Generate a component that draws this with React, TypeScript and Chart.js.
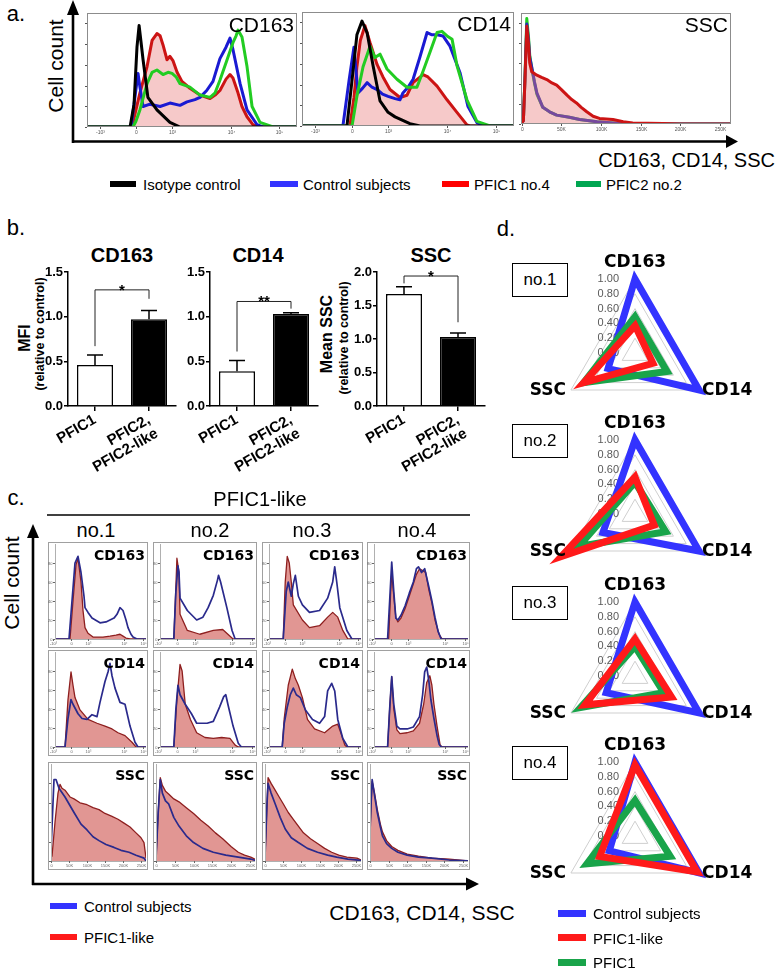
import React, { useEffect, useRef } from 'react';
import { Chart, registerables } from 'chart.js';

Chart.register(...registerables);

type Pt = [number, number];

const SANS = '"Liberation Sans", Arial, Helvetica, sans-serif';
const VERD = '"DejaVu Sans", Verdana, sans-serif';

// ---------------- Panel a data ----------------
const aLegend = ['Isotype control', 'Control subjects', 'PFIC1 no.4', 'PFIC2 no.2'];
const aLegendColors = ['#000000', '#3333ff', '#ff0000', '#00a651'];
const aTitles = ['CD163', 'CD14', 'SSC'];
const cdTickPos = [6, 23.5, 40.5, 68.5, 91.5];
const cdTickLabels = ['-10³', '0', '10³', '10⁴', '10⁵'];
const sscTickPosK = [0, 50, 100, 150, 200, 250];
const sscTickLabels = ['0', '50K', '100K', '150K', '200K', '250K'];
const aYTicks = [0, 18.2, 36.4, 54.6, 72.8, 91];

const a163Black: Pt[] = [[0,0],[20.5,0],[22.4,20],[23.8,70],[24.8,89],[25.7,75],[26.7,59],[29,26],[33.3,15],[39.5,4],[44.3,0],[100,0]];
const a163Blue: Pt[] = [[0,0],[21,0],[22.4,20],[24.3,47],[25.2,35],[26.7,18],[30,20],[34.8,18],[39.5,21],[44.3,19],[47.6,22],[51.4,24],[53.8,26],[57,32],[60,40],[63.3,60],[66.2,70],[68.1,78],[69.5,68],[72.9,38],[76.2,15],[81,2],[83.8,0],[100,0]];
const a163Red: Pt[] = [[0,0],[21.4,0],[23.3,15],[25.2,30],[28.6,53],[31,76],[33.3,82],[34.8,80],[36.2,72],[38.1,59],[39.5,62],[41,58],[42.9,48],[45.2,40],[49,34],[53.8,28],[58.6,25],[61,28],[63.3,32],[66.2,42],[68.1,46],[69.5,43],[71.9,30],[73.8,18],[76.2,9],[79,2],[82.4,0],[100,0]];
const a163Green: Pt[] = [[0,0],[21.9,0],[23.3,5],[25.2,15],[28.6,38],[31,48],[33.3,50],[36.2,46],[38.6,48],[40.5,47],[42.4,44],[44.3,38],[49,35],[53.8,28],[58.6,26],[61,30],[63.3,41],[66.7,59],[69.5,74],[71,80],[71.9,85],[73.8,79],[76.2,53],[78.6,18],[82.4,4],[88.6,0],[100,0]];

const a14Black: Pt[] = [[0,0],[21.2,0],[23.6,40],[25.9,80],[28.3,92],[30.7,82],[33.5,53],[36.8,22],[40.6,12],[43.9,8],[50.9,2],[55.7,0],[100,0]];
const a14Blue: Pt[] = [[0,0],[19.3,0],[22.2,40],[24.5,69],[26.4,29],[28.5,33],[30.7,38],[33,34],[35.4,32],[38,28],[40.6,26],[43.9,24],[46.2,23],[47.6,29],[50,34],[52.4,41],[55.7,61],[59,82],[61.3,80],[63.7,80],[66.5,79],[69.8,70],[74.5,47],[78.3,17],[82.5,3],[86.3,0],[100,0]];
const a14Red: Pt[] = [[0,0],[22.6,0],[24.5,25],[25.9,52],[27.5,75],[29.7,88],[32.1,73],[35.4,54],[38.2,43],[41.5,32],[46.2,25],[49.5,27],[52.4,38],[57.1,45],[59.4,43],[63.7,35],[68.4,23],[73.1,12],[77.8,1],[79.2,0],[100,0]];
const a14Green: Pt[] = [[0,0],[23.6,0],[25.9,26],[28.8,52],[32.1,70],[34.4,60],[36.8,63],[40.1,50],[44.8,41],[49.5,34],[54.2,34],[57.1,48],[60.4,65],[63.7,82],[66,83],[68.4,79],[70.8,76],[73.1,53],[77.8,23],[82.5,4],[88.7,0],[100,0]];

const aSscBlue: Pt[] = [[-1,0],[2,3],[4,40],[6.3,90],[8.5,75],[10,60],[12.6,51],[16,38],[19,28],[26.5,15],[35,11],[44,8],[60,6],[73,4],[95,2],[115,1],[136,0],[264,0]];
const aSscGreen: Pt[] = [[-1,0],[2,3],[4,42],[6.3,95],[8.5,78],[10,62],[12.6,50],[16,37],[19,27],[26.5,15],[35,11],[44,8],[60,6],[73,4],[95,2],[115,1],[136,0],[264,0]];
const aSscRed: Pt[] = [[-1,0],[2,3],[4,40],[6.3,88],[8.5,72],[10,55],[12.6,47],[19,44],[25,42],[31.6,40],[38,37],[44,35],[50,31],[57,26],[63,22],[69,19],[75,15],[82,11],[90,7],[98,5],[115,4],[128,2],[140,1],[178,0.5],[200,0],[264,0]];

// ---------------- Panel b data ----------------
const bCats: (string | string[])[] = ['PFIC1', ['PFIC2,', 'PFIC2-like']];
const b163 = [0.46, 0.97];
const b163Err = [0.11, 0.10];
const b163Sig = [0.67, 1.30, 1.20];
const b14 = [0.39, 1.03];
const b14Err = [0.12, 0.015];
const b14Sig = [0.61, 1.17, 1.09];
const bSsc = [1.67, 1.03];
const bSscErr = [0.11, 0.06];
const bSscSig = [1.83, 1.94, 1.25];

// ---------------- Panel c data ----------------
const cTitles = ['CD163', 'CD14', 'SSC'];
const cColTitles = ['no.1', 'no.2', 'no.3', 'no.4'];
const cCdTicks = [5, 23, 40, 76, 95];
const cSscTicks = [3, 21, 39, 57, 75, 93];
const cYTicks = [0, 20, 40, 60, 80];
const cYLabels = ['0', '20', '40', '60', '80'];

const c163Blue1: Pt[] = [[0,0],[21,0],[24,40],[27,80],[30,87],[33,70],[36,45],[37,33],[40,28],[44,22],[52,17],[58,18],[62,20],[66,22],[69,26],[72,33],[75,30],[78,20],[80,12],[83,5],[85,2],[89,0],[100,0]];
const c163Red1: Pt[] = [[0,0],[22,0],[25,40],[28,78],[30,85],[33,60],[35,30],[37,12],[40,6],[45,2],[55,2],[62,3],[68,4],[72,5],[75,3],[78,1],[82,0],[100,0]];
const c163Blue2: Pt[] = [[0,0],[20,0],[22,50],[24,77],[25,70],[26,43],[33,30],[42,20],[48,23],[53,33],[58,46],[62,62],[63,67],[65,60],[71,33],[76,9],[79,0],[100,0]];
const c163Red2: Pt[] = [[0,0],[20,0],[22,55],[23,85],[25,70],[26,26],[33,9],[45,5],[58,9],[67,10],[72,5],[77,0],[100,0]];
const c163Blue3: Pt[] = [[0,0],[21,0],[24,50],[26,60],[29,45],[31,58],[33,67],[36,45],[40,36],[47,28],[57,30],[65,43],[70,60],[72,76],[74,60],[77,33],[84,9],[89,0],[100,0]];
const c163Red3: Pt[] = [[0,0],[21,0],[23,60],[25,87],[27,80],[29,60],[31,36],[40,20],[47,12],[57,14],[65,23],[70,28],[75,23],[80,9],[85,0],[100,0]];
const c163Blue4: Pt[] = [[0,0],[20,0],[22,40],[24,81],[26,50],[28,22],[30,20],[33,25],[37,35],[41,48],[45,60],[48,74],[50,76],[53,70],[56,74],[60,55],[63,40],[66,23],[69,8],[72,0],[100,0]];
const c163Red4: Pt[] = [[0,0],[21,0],[23,50],[24,70],[26,45],[28,23],[30,18],[33,22],[37,32],[41,45],[45,58],[48,68],[51,74],[54,72],[57,70],[60,52],[63,38],[66,20],[70,5],[73,0],[100,0]];

const c14Blue1: Pt[] = [[0,0],[17,0],[20,30],[23,50],[25,45],[30,35],[34,30],[39,29],[44,34],[49,32],[52,47],[57,69],[60,79],[62,88],[64,75],[67,62],[72,47],[77,45],[82,22],[87,5],[90,0],[100,0]];
const c14Red1: Pt[] = [[0,0],[17,0],[20,50],[23,79],[25,65],[27,52],[32,39],[40,29],[49,25],[57,22],[64,19],[70,15],[77,12],[84,5],[88,0],[100,0]];
const c14Blue2: Pt[] = [[0,0],[20,0],[22,40],[24,65],[26,55],[31,45],[37,35],[42,25],[52,25],[58,27],[64,42],[68,53],[70,55],[72,45],[77,22],[82,4],[85,0],[100,0]];
const c14Red2: Pt[] = [[0,0],[20,0],[23,50],[26,87],[28,80],[31,45],[36,29],[42,15],[50,10],[58,9],[66,10],[74,9],[79,2],[82,0],[100,0]];
const c14Blue3: Pt[] = [[0,0],[20,0],[22,25],[25,42],[28,55],[31,62],[34,55],[38,52],[43,39],[50,29],[57,25],[62,32],[65,59],[69,67],[72,59],[75,29],[80,9],[85,0],[100,0]];
const c14Red3: Pt[] = [[0,0],[20,0],[22,30],[26,65],[30,82],[33,72],[36,65],[40,52],[45,29],[52,19],[62,15],[70,22],[75,24],[79,12],[82,2],[84,0],[100,0]];
const c14Blue4: Pt[] = [[0,0],[20,0],[22,40],[24,74],[26,45],[29,22],[32,19],[39,19],[45,21],[51,32],[54,55],[56,79],[58,84],[60,70],[62,50],[65,30],[68,12],[70,3],[72,0],[100,0]];
const c14Red4: Pt[] = [[0,0],[20,0],[22,40],[24,74],[26,40],[29,18],[32,14],[39,15],[45,17],[51,25],[55,45],[58,68],[61,75],[63,65],[65,45],[68,22],[71,2],[73,0],[100,0]];

const cSscBlue1: Pt[] = [[0,0],[3,10],[5,60],[6,84],[8,84],[11,75],[17,66],[26,50],[33,38],[39,32],[45,25],[51,21],[58,17],[66,14],[73,11],[81,9],[88,6],[96,3],[98,0],[100,0]];
const cSscRed1: Pt[] = [[0,0],[4,5],[7,40],[10,70],[12,79],[14,75],[17,73],[22,66],[26,64],[32,60],[39,58],[45,55],[51,53],[57,49],[64,46],[70,43],[76,39],[82,35],[88,29],[93,24],[96,19],[98,3],[100,0]];
const cSscBlue2: Pt[] = [[0,0],[3,5],[5,50],[7,84],[9,70],[12,62],[15,59],[20,45],[25,36],[32,26],[39,19],[48,13],[58,9],[70,6],[82,4],[94,2],[100,0]];
const cSscRed2: Pt[] = [[0,0],[3,5],[5,50],[7,86],[9,78],[12,72],[15,69],[20,64],[25,61],[32,55],[39,49],[46,42],[53,36],[60,29],[67,23],[75,15],[82,9],[88,6],[94,4],[98,2],[100,0]];
const cSscBlue3: Pt[] = [[0,0],[3,5],[5,60],[6,80],[9,70],[13,59],[18,45],[23,33],[29,24],[36,19],[45,13],[55,9],[65,6],[74,4],[85,2],[95,1],[100,0]];
const cSscRed3: Pt[] = [[0,0],[3,5],[5,60],[6,86],[9,80],[13,73],[17,66],[21,59],[26,50],[31,43],[36,36],[41,29],[48,23],[55,18],[62,13],[69,9],[76,6],[84,4],[94,3],[100,0]];
const cSscBlue4: Pt[] = [[0,0],[2,5],[4,60],[5,84],[7,70],[10,50],[13,35],[15,26],[19,18],[24,13],[30,9],[39,6],[50,4],[63,3],[80,1],[100,0]];
const cSscRed4: Pt[] = [[0,0],[2,5],[4,60],[5,82],[7,72],[10,53],[13,38],[15,30],[19,21],[24,15],[30,11],[39,7],[50,5],[63,3],[80,2],[100,0]];

// ---------------- Panel d data ----------------
const dAxes = ['CD163', 'CD14', 'SSC'];
const dTicks = [0, 0.2, 0.4, 0.6, 0.8, 1.0];
const dNames = ['no.1', 'no.2', 'no.3', 'no.4'];
const dBlue1 = [1.0, 1.0, 0.42];
const dGreen1 = [0.49, 0.5, 0.8];
const dRed1 = [0.37, 0.28, 0.8];
const dBlue2 = [1.0, 1.0, 0.5];
const dGreen2 = [0.43, 0.48, 0.88];
const dRed2 = [0.5, 0.3, 1.15];
const dBlue3 = [1.0, 1.0, 0.45];
const dGreen3 = [0.4, 0.45, 0.85];
const dRed3 = [0.5, 0.57, 0.78];
const dBlue4 = [1.0, 1.0, 0.4];
const dGreen4 = [0.48, 0.55, 0.75];
const dRed4 = [0.96, 0.97, 0.55];
const dLegend = ['Control subjects', 'PFIC1-like', 'PFIC1'];
const cLegend = ['Control subjects', 'PFIC1-like'];

// colours
const D_BLUE = '#3333ff';
const D_RED = '#ff1a1a';
const D_GREEN = '#19a44a';

// ---------------- helpers ----------------
interface HistSeries { pts: Pt[]; color: string; width: number; fill?: string }
interface HistOpts {
  series: HistSeries[];
  xMin: number; xMax: number;
  pad: { left: number; top: number; right: number; bottom: number };
  xTicks: number[]; xLabels: string[];
  yTicks: number[]; yLabels?: string[];
  frame?: string; outerFrame?: string; axisLine?: string;
  tickFont: number; tickColor: string;
}

function histConfig(o: HistOpts): any {
  const n = o.series.length;
  const decor = {
    id: 'histDecor',
    afterDatasetsDraw(chart: any) {
      const { ctx, chartArea: ca } = chart;
      const xs = chart.scales.x;
      const ys = chart.scales.y;
      ctx.save();
      ctx.lineWidth = 1;
      if (o.axisLine) {
        ctx.strokeStyle = o.axisLine;
        ctx.beginPath();
        ctx.moveTo(Math.round(ca.left) + 0.5, ca.top);
        ctx.lineTo(Math.round(ca.left) + 0.5, Math.round(ca.bottom) + 0.5);
        ctx.lineTo(ca.right, Math.round(ca.bottom) + 0.5);
        ctx.stroke();
      }
      if (o.frame) {
        ctx.strokeStyle = o.frame;
        ctx.strokeRect(Math.round(ca.left) + 0.5, Math.round(ca.top) + 0.5, Math.round(ca.width) - 1, Math.round(ca.height) - 1);
      }
      if (o.outerFrame) {
        ctx.strokeStyle = o.outerFrame;
        ctx.strokeRect(0.5, 0.5, chart.width - 1, chart.height - 1);
      }
      ctx.strokeStyle = o.tickColor;
      ctx.fillStyle = o.tickColor;
      ctx.font = `${o.tickFont}px ${SANS}`;
      ctx.textAlign = 'center';
      ctx.textBaseline = 'top';
      o.xTicks.forEach((v, i) => {
        const px = Math.round(xs.getPixelForValue(v)) + 0.5;
        ctx.beginPath();
        ctx.moveTo(px, ca.bottom);
        ctx.lineTo(px, ca.bottom + 2);
        ctx.stroke();
        ctx.fillText(o.xLabels[i], px, ca.bottom + 3);
      });
      ctx.textAlign = 'right';
      ctx.textBaseline = 'middle';
      o.yTicks.forEach((v, i) => {
        const py = Math.round(ys.getPixelForValue(v)) + 0.5;
        ctx.beginPath();
        ctx.moveTo(ca.left - 2, py);
        ctx.lineTo(ca.left, py);
        ctx.stroke();
        if (o.yLabels) ctx.fillText(o.yLabels[i], ca.left - 2.5, py);
      });
      ctx.restore();
    },
  };
  return {
    type: 'line',
    data: {
      datasets: o.series.map((s, i) => ({
        data: s.pts.map(([x, y]) => ({ x, y })),
        borderColor: s.color,
        borderWidth: s.width,
        backgroundColor: s.fill || 'rgba(0,0,0,0)',
        fill: s.fill ? 'origin' : false,
        pointRadius: 0,
        tension: 0,
        borderJoinStyle: 'round',
        order: n - i,
      })),
    },
    options: {
      animation: false,
      responsive: false,
      layout: { padding: o.pad },
      plugins: { legend: { display: false }, tooltip: { enabled: false } },
      scales: {
        x: { type: 'linear', display: false, min: o.xMin, max: o.xMax },
        y: { type: 'linear', display: false, min: 0, max: 100 },
      },
    },
    plugins: [decor],
  };
}

interface BarOpts { values: number[]; errs: number[]; yMax: number; sig: number[]; star: string }

function barConfig(o: BarOpts): any {
  const decor = {
    id: 'barDecor',
    afterDatasetsDraw(chart: any) {
      const { ctx } = chart;
      const xs = chart.scales.x;
      const ys = chart.scales.y;
      ctx.save();
      ctx.strokeStyle = '#000';
      ctx.lineWidth = 1.5;
      o.values.forEach((v, i) => {
        const px = xs.getPixelForValue(i);
        const y0 = ys.getPixelForValue(v);
        const y1 = ys.getPixelForValue(v + o.errs[i]);
        ctx.beginPath();
        ctx.moveTo(px, y0);
        ctx.lineTo(px, y1);
        ctx.moveTo(px - 8, y1);
        ctx.lineTo(px + 8, y1);
        ctx.stroke();
      });
      const x0 = xs.getPixelForValue(0);
      const x1 = xs.getPixelForValue(1);
      const yTop = ys.getPixelForValue(o.sig[1]);
      ctx.lineWidth = 1;
      ctx.strokeStyle = '#222';
      ctx.beginPath();
      ctx.moveTo(x0, ys.getPixelForValue(o.sig[0]));
      ctx.lineTo(x0, yTop);
      ctx.lineTo(x1, yTop);
      ctx.lineTo(x1, ys.getPixelForValue(o.sig[2]));
      ctx.stroke();
      ctx.fillStyle = '#000';
      ctx.font = `bold 15px ${SANS}`;
      ctx.textAlign = 'center';
      ctx.textBaseline = 'alphabetic';
      ctx.fillText(o.star, (x0 + x1) / 2, yTop + 5);
      ctx.restore();
    },
  };
  return {
    type: 'bar',
    data: {
      labels: bCats,
      datasets: [{
        data: o.values,
        backgroundColor: ['#ffffff', '#000000'],
        borderColor: '#000000',
        borderWidth: 1.5,
        barPercentage: 0.667,
        categoryPercentage: 1,
      }],
    },
    options: {
      animation: false,
      responsive: false,
      layout: { padding: { top: 14, right: 10, left: 0, bottom: 0 } },
      plugins: { legend: { display: false }, tooltip: { enabled: false } },
      scales: {
        x: {
          grid: { display: true, offset: false, drawOnChartArea: false, drawTicks: true, tickLength: 5, color: '#000', lineWidth: 1.5 },
          border: { display: true, color: '#000', width: 1.5 },
          ticks: { color: '#000', font: { family: SANS, size: 15, weight: 'bold', lineHeight: 1.05 }, minRotation: 30, maxRotation: 30, padding: 1, autoSkip: false },
          afterFit: (s: any) => { s.height = 70; },
        },
        y: {
          min: 0,
          max: o.yMax,
          grid: { display: true, drawOnChartArea: false, drawTicks: true, tickLength: 4, color: '#000', lineWidth: 1.5 },
          border: { display: true, color: '#000', width: 1.5 },
          ticks: { stepSize: 0.5, callback: (v: any) => Number(v).toFixed(1), color: '#000', font: { family: SANS, size: 13, weight: 'bold' }, padding: 1 },
          afterFit: (s: any) => { s.width = 40; },
        },
      },
    },
    plugins: [decor],
  };
}

function radarConfig(blue: number[], red: number[], green: number[], pad: any): any {
  const decor = {
    id: 'radarDecor',
    beforeDatasetsDraw(chart: any) {
      const { ctx } = chart;
      const r = chart.scales.r;
      ctx.save();
      ctx.fillStyle = '#5a5a5a';
      ctx.font = `11px ${SANS}`;
      ctx.textAlign = 'right';
      ctx.textBaseline = 'middle';
      dTicks.forEach((v) => {
        ctx.fillText(v.toFixed(2), r.xCenter - 16, r.yCenter - r.getDistanceFromCenterForValue(v));
      });
      ctx.restore();
    },
    afterDatasetsDraw(chart: any) {
      const { ctx } = chart;
      const r = chart.scales.r;
      const d = r.getDistanceFromCenterForValue(1);
      ctx.save();
      ctx.fillStyle = '#000';
      ctx.font = `bold 17px ${VERD}`;
      const p0 = r.getPointPosition(0, d);
      ctx.textAlign = 'center';
      ctx.textBaseline = 'bottom';
      ctx.fillText(dAxes[0], p0.x, p0.y - 8);
      const p1 = r.getPointPosition(1, d);
      ctx.textAlign = 'left';
      ctx.textBaseline = 'middle';
      ctx.fillText(dAxes[1], p1.x + 3, p1.y + 1);
      const p2 = r.getPointPosition(2, d);
      ctx.textAlign = 'right';
      ctx.fillText(dAxes[2], p2.x - 5, p2.y + 1);
      ctx.restore();
    },
  };
  const ds = (data: number[], color: string, order: number) => ({
    data, borderColor: color, backgroundColor: 'rgba(0,0,0,0)', borderWidth: 7, fill: false,
    pointRadius: 0, tension: 0, borderJoinStyle: 'miter', clip: false, order,
  });
  return {
    type: 'radar',
    data: {
      labels: dAxes,
      datasets: [ds(blue, D_BLUE, 3), ds(green, D_GREEN, 2), ds(red, D_RED, 1)],
    },
    options: {
      animation: false,
      responsive: false,
      layout: { padding: pad },
      plugins: { legend: { display: false }, tooltip: { enabled: false } },
      scales: {
        r: {
          min: 0,
          max: 1,
          ticks: { display: false, stepSize: 0.2 },
          pointLabels: { display: false },
          grid: { color: '#cfcfcf', lineWidth: 1, circular: false },
          angleLines: { display: false },
        },
      },
    },
    plugins: [decor],
  };
}

function ChartCanvas({ x, y, w, h, make }: { x: number; y: number; w: number; h: number; make: () => any }) {
  const ref = useRef<HTMLCanvasElement | null>(null);
  useEffect(() => {
    if (!ref.current) return;
    const chart = new Chart(ref.current, make());
    return () => chart.destroy();
  }, []);
  return <canvas ref={ref} width={w} height={h} style={{ position: 'absolute', left: x, top: y, width: w, height: h }} />;
}

function Txt({ x, y, children, size, weight = 'normal', family = SANS, align = 'center', rotate = 0, color = '#000' }: any) {
  const tx = align === 'center' ? '-50%' : align === 'right' ? '-100%' : '0';
  return (
    <div style={{
      position: 'absolute', left: x, top: y,
      transform: `translate(${tx}, -50%) rotate(${rotate}deg)`,
      fontSize: size, fontWeight: weight, fontFamily: family, color,
      whiteSpace: 'nowrap', lineHeight: 1,
    }}>{children}</div>
  );
}

function Swatch({ x1, x2, y, h, color }: any) {
  return <div style={{ position: 'absolute', left: x1, top: y - h / 2, width: x2 - x1, height: h, background: color }} />;
}

// ---------------- layout ----------------
const aBoxes = [
  { x: 87, y: 13, w: 210, h: 114 },
  { x: 302, y: 12, w: 212, h: 114 },
  { x: 521, y: 13, w: 210, h: 111 },
];
const A_PAD = { left: 8, top: 2, right: 3, bottom: 10 };

const cCols = [{ x: 48, w: 100 }, { x: 153, w: 104 }, { x: 262, w: 101 }, { x: 367, w: 103 }];
const cRows = [{ y: 542, h: 106 }, { y: 650, h: 106 }, { y: 762, h: 108 }];
const cColCenters = [96, 210, 312, 417];
const C_PADS = [
  { left: 7, top: 2, right: 2, bottom: 9 },
  { left: 7, top: 2, right: 2, bottom: 9 },
  { left: 3, top: 2, right: 2, bottom: 9 },
];

const dCenters = [353, 514, 676, 836];

export default function App() {
  useEffect(() => { document.body.style.margin = '0'; }, []);

  const aSeries: HistSeries[][] = [
    [
      { pts: a163Red, color: '#cc1414', width: 3, fill: 'rgba(232,120,120,0.4)' },
      { pts: a163Blue, color: '#1a1ad2', width: 3 },
      { pts: a163Green, color: '#22cc22', width: 3 },
      { pts: a163Black, color: '#000000', width: 3 },
    ],
    [
      { pts: a14Red, color: '#cc1414', width: 3, fill: 'rgba(232,120,120,0.4)' },
      { pts: a14Blue, color: '#1a1ad2', width: 3 },
      { pts: a14Green, color: '#22cc22', width: 3 },
      { pts: a14Black, color: '#000000', width: 3 },
    ],
    [
      { pts: aSscGreen, color: '#22cc22', width: 3 },
      { pts: aSscBlue, color: '#2a2ab8', width: 3 },
      { pts: aSscRed, color: '#cc1414', width: 3, fill: 'rgba(232,120,120,0.4)' },
    ],
  ];

  const cData: Pt[][][][] = [
    [[c163Blue1, c163Red1], [c163Blue2, c163Red2], [c163Blue3, c163Red3], [c163Blue4, c163Red4]],
    [[c14Blue1, c14Red1], [c14Blue2, c14Red2], [c14Blue3, c14Red3], [c14Blue4, c14Red4]],
    [[cSscBlue1, cSscRed1], [cSscBlue2, cSscRed2], [cSscBlue3, cSscRed3], [cSscBlue4, cSscRed4]],
  ];

  const dData = [
    [dBlue1, dRed1, dGreen1],
    [dBlue2, dRed2, dGreen2],
    [dBlue3, dRed3, dGreen3],
    [dBlue4, dRed4, dGreen4],
  ];

  const bPanels = [
    { axisX: 68, values: b163, errs: b163Err, yMax: 1.5, sig: b163Sig, star: '*' },
    { axisX: 210, values: b14, errs: b14Err, yMax: 1.5, sig: b14Sig, star: '**' },
    { axisX: 377, values: bSsc, errs: bSscErr, yMax: 2.0, sig: bSscSig, star: '*' },
  ];

  return (
    <div style={{ position: 'absolute', left: 0, top: 0, width: 778, height: 970, background: '#fff', overflow: 'hidden' }}>
      {/* ---------- Panel a ---------- */}
      <Txt x={16} y={14} size={22}>a.</Txt>
      <Txt x={55} y={66} size={21} rotate={-90}>Cell count</Txt>
      {aBoxes.map((b, i) => (
        <ChartCanvas key={'a' + i}
          x={b.x - A_PAD.left} y={b.y - A_PAD.top}
          w={b.w + A_PAD.left + A_PAD.right} h={b.h + A_PAD.top + A_PAD.bottom}
          make={() => histConfig({
            series: aSeries[i],
            xMin: i === 2 ? -1 : 0, xMax: i === 2 ? 264 : 100,
            pad: A_PAD,
            xTicks: i === 2 ? sscTickPosK : cdTickPos,
            xLabels: i === 2 ? sscTickLabels : cdTickLabels,
            yTicks: aYTicks,
            frame: '#8c8c8c',
            tickFont: 5, tickColor: '#555',
          })} />
      ))}
      {aTitles.map((t, i) => (
        <Txt key={'at' + i} x={aBoxes[i].x + aBoxes[i].w - 3} y={aBoxes[i].y + 11} size={21} align="right">{t}</Txt>
      ))}
      <Txt x={775} y={160} size={20} align="right">CD163, CD14, SSC</Txt>
      {aLegend.map((t, i) => {
        const sw = [[110, 136], [270, 298], [442, 469], [576, 601]][i];
        const tx = [143, 303, 474, 606][i];
        return (
          <React.Fragment key={'al' + i}>
            <Swatch x1={sw[0]} x2={sw[1]} y={184} h={6} color={aLegendColors[i]} />
            <Txt x={tx} y={184} size={15} align="left">{t}</Txt>
          </React.Fragment>
        );
      })}

      {/* ---------- Panel b ---------- */}
      <Txt x={16} y={228} size={22}>b.</Txt>
      <Txt x={122} y={255} size={20} weight="bold">CD163</Txt>
      <Txt x={258} y={255} size={20} weight="bold">CD14</Txt>
      <Txt x={431} y={255} size={20} weight="bold">SSC</Txt>
      <Txt x={25} y={338} size={16} weight="bold" rotate={-90}>MFI</Txt>
      <Txt x={40} y={334} size={12.5} weight="bold" rotate={-90}>(relative to control)</Txt>
      <Txt x={327} y={334} size={16} weight="bold" rotate={-90}>Mean SSC</Txt>
      <Txt x={344} y={338} size={12.5} weight="bold" rotate={-90}>(relative to control)</Txt>
      {bPanels.map((p, i) => (
        <ChartCanvas key={'b' + i} x={p.axisX - 40} y={258} w={158} h={218}
          make={() => barConfig({ values: p.values, errs: p.errs, yMax: p.yMax, sig: p.sig, star: p.star })} />
      ))}

      {/* ---------- Panel c ---------- */}
      <Txt x={16} y={498} size={22}>c.</Txt>
      <Txt x={260} y={499} size={20}>PFIC1-like</Txt>
      {cColTitles.map((t, i) => (
        <Txt key={'ct' + i} x={cColCenters[i]} y={530} size={20}>{t}</Txt>
      ))}
      <Txt x={11} y={583} size={21} rotate={-90}>Cell count</Txt>
      {cRows.map((r, ri) => cCols.map((c, ci) => {
        const pad = C_PADS[ri];
        return (
          <ChartCanvas key={'c' + ri + '_' + ci} x={c.x} y={r.y} w={c.w} h={r.h}
            make={() => histConfig({
              series: [
                { pts: cData[ri][ci][1], color: '#8e1f1f', width: 1.3, fill: 'rgba(205,80,75,0.6)' },
                { pts: cData[ri][ci][0], color: '#2a2a8c', width: 1.7 },
              ],
              xMin: pad.left / c.w * 100, xMax: 100 - pad.right / c.w * 100,
              pad,
              xTicks: ri === 2 ? cSscTicks : cCdTicks,
              xLabels: ri === 2 ? sscTickLabels : cdTickLabels,
              yTicks: cYTicks, yLabels: ri === 2 ? undefined : cYLabels,
              outerFrame: '#a0a0a0', axisLine: '#b0b0b0',
              tickFont: 4, tickColor: '#666',
            })} />
        );
      }))}
      {cRows.map((r, ri) => cCols.map((c, ci) => (
        <Txt key={'cl' + ri + '_' + ci} x={c.x + c.w - 3} y={r.y + 13} size={14} weight="bold" family={VERD} align="right">{cTitles[ri]}</Txt>
      )))}
      <Txt x={422} y={912} size={21}>CD163, CD14, SSC</Txt>
      {cLegend.map((t, i) => (
        <React.Fragment key={'cleg' + i}>
          <Swatch x1={50} x2={77} y={906 + i * 31} h={6} color={i === 0 ? D_BLUE : D_RED} />
          <Txt x={84} y={906 + i * 31} size={15} align="left">{t}</Txt>
        </React.Fragment>
      ))}

      {/* ---------- Panel d ---------- */}
      <Txt x={506} y={229} size={22}>d.</Txt>
      {dCenters.map((cy, i) => (
        <React.Fragment key={'d' + i}>
          <div style={{ position: 'absolute', left: 512, top: cy - 90, width: 54, height: 32, border: '1px solid #000', display: 'flex', alignItems: 'center', justifyContent: 'center', fontFamily: SANS, fontSize: 17 }}>{dNames[i]}</div>
          <ChartCanvas x={500} y={cy - 104} w={270} h={184}
            make={() => radarConfig(dData[i][0], dData[i][1], dData[i][2], { left: 61, right: 61, top: 30, bottom: 6 })} />
        </React.Fragment>
      ))}
      {dLegend.map((t, i) => (
        <React.Fragment key={'dl' + i}>
          <Swatch x1={558} x2={586} y={913 + i * 24.5} h={7} color={[D_BLUE, D_RED, D_GREEN][i]} />
          <Txt x={593} y={913 + i * 24.5} size={15} align="left">{t}</Txt>
        </React.Fragment>
      ))}

      {/* ---------- arrows & rules ---------- */}
      <svg width={778} height={970} style={{ position: 'absolute', left: 0, top: 0, pointerEvents: 'none' }}>
        <line x1={73} y1={143} x2={73} y2={12} stroke="#000" strokeWidth={2.6} />
        <polygon points="73,0 67,15 79,15" fill="#000" />
        <line x1={72} y1={141.5} x2={727} y2={141.5} stroke="#000" strokeWidth={2.6} />
        <polygon points="738,141.5 726,135 726,148" fill="#000" />
        <line x1={47} y1={515} x2={470} y2={515} stroke="#000" strokeWidth={1.5} />
        <line x1={33} y1={885} x2={33} y2={536} stroke="#000" strokeWidth={2.6} />
        <polygon points="33,524 27,538 39,538" fill="#000" />
        <line x1={32} y1={884} x2={467} y2={884} stroke="#000" strokeWidth={2.6} />
        <polygon points="479,884 466,877.5 466,890.5" fill="#000" />
      </svg>
    </div>
  );
}
